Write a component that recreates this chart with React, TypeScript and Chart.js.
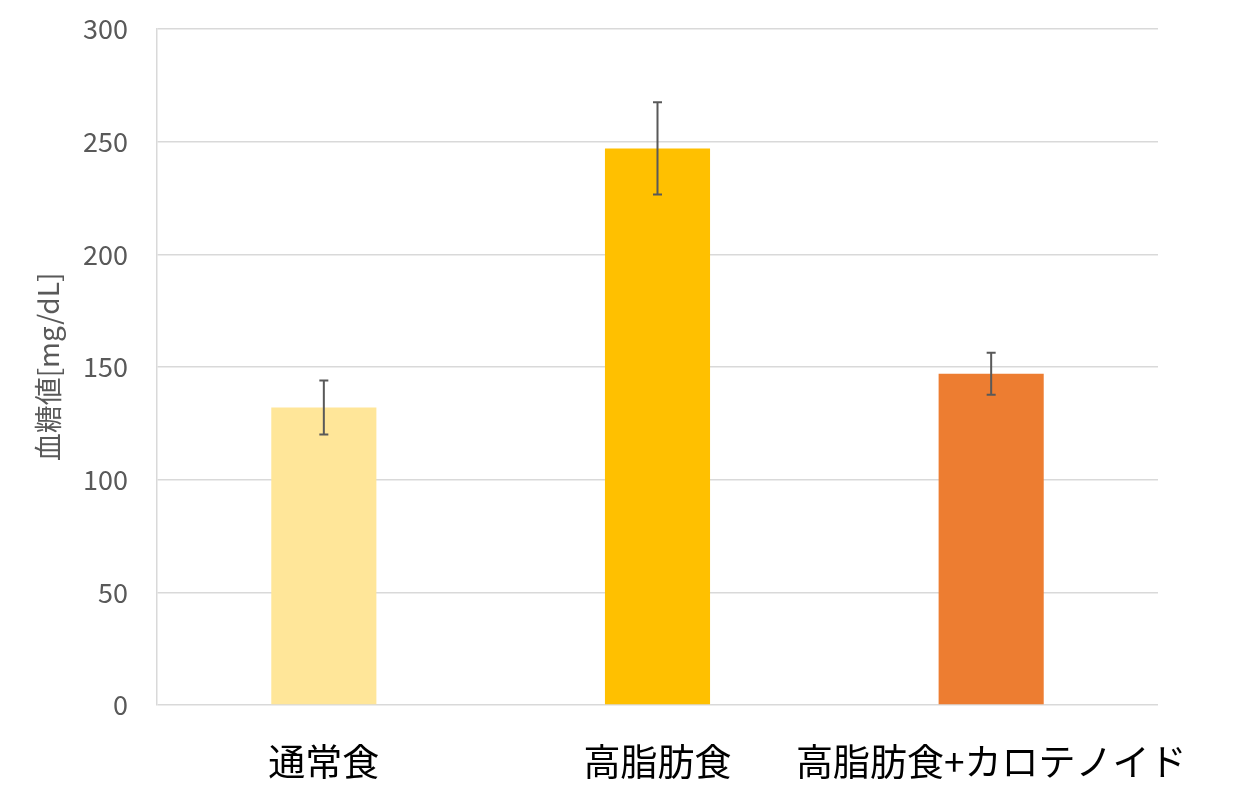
import React, { useEffect, useRef } from "react";
import { Chart, registerables } from "chart.js";

Chart.register(...registerables);

const categories = ["通常食", "高脂肪食", "高脂肪食+カロテノイド"];
const means = [132, 247, 147];
const errors = [12, 20.5, 9.3];
const barColors = ["#FFE699", "#FFC000", "#ED7D31"];
const yTicks = [0, 50, 100, 150, 200, 250, 300];
const yTitle = "血糖値[mg/dL]";

const errorBarPlugin = {
  id: "errorBars",
  afterDatasetsDraw(chart: any) {
    const { ctx, scales } = chart;
    const meta = chart.getDatasetMeta(0);
    const y = scales.y;
    ctx.save();
    ctx.strokeStyle = "#595959";
    ctx.lineWidth = 2;
    meta.data.forEach((bar: any, i: number) => {
      const x = bar.x;
      const yTop = y.getPixelForValue(means[i] + errors[i]);
      const yBot = y.getPixelForValue(means[i] - errors[i]);
      ctx.beginPath();
      ctx.moveTo(x, yTop);
      ctx.lineTo(x, yBot);
      ctx.moveTo(x - 4.5, yTop);
      ctx.lineTo(x + 4.5, yTop);
      ctx.moveTo(x - 4.5, yBot);
      ctx.lineTo(x + 4.5, yBot);
      ctx.stroke();
    });
    ctx.restore();
  },
};

export default function App() {
  const ref = useRef<HTMLCanvasElement>(null);
  useEffect(() => {
    if (!ref.current) return;
    const chart = new Chart(ref.current, {
      type: "bar",
      data: {
        labels: categories,
        datasets: [
          {
            data: means,
            backgroundColor: barColors,
            barPercentage: 1,
            categoryPercentage: 0.315,
          },
        ],
      },
      plugins: [errorBarPlugin],
      options: {
        animation: false,
        responsive: false,
        maintainAspectRatio: false,
        layout: { padding: { top: 29, right: 96, left: 0, bottom: 0 } },
        plugins: { legend: { display: false }, tooltip: { enabled: false } },
        scales: {
          x: {
            grid: { display: false },
            border: { display: false },
            ticks: {
              color: "#000000",
              font: { family: "'Noto Sans CJK JP'", size: 37 },
              padding: 27,
              maxRotation: 0,
              autoSkip: false,
            },
            afterFit(scale: any) {
              scale.height = 105;
            },
          },
          y: {
            min: 0,
            max: 300,
            afterBuildTicks(scale: any) {
              scale.ticks = yTicks.map((v) => ({ value: v }));
            },
            grid: { color: "#D9D9D9", lineWidth: 1.5, drawTicks: false },
            border: { display: true, color: "#D9D9D9", width: 1.5 },
            ticks: {
              color: "#595959",
              font: { family: "'Noto Sans CJK JP'", size: 27 },
              padding: 29,
            },
            title: {
              display: true,
              text: yTitle,
              color: "#595959",
              font: { family: "'Noto Sans CJK JP'", size: 28 },
              padding: { top: 32, bottom: 0 },
            },
            afterFit(scale: any) {
              scale.width = 157;
              scale.paddingTop = 0;
              scale.paddingBottom = 0;
            },
          },
        },
      },
    });
    return () => chart.destroy();
  }, []);
  return (
    <div style={{ position: "fixed", left: 0, top: 0, width: 1254, height: 810, background: "#fff" }}>
      <canvas ref={ref} width={1254} height={810} style={{ width: 1254, height: 810 }} />
    </div>
  );
}
